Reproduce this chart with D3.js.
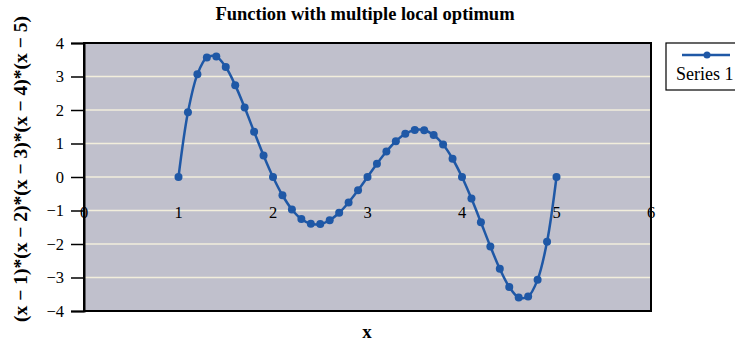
<!DOCTYPE html>
<html>
<head>
<meta charset="utf-8">
<script src="https://cdn.jsdelivr.net/npm/d3@7"></script>
<style>
  body { margin: 0; background: #fff; }
</style>
</head>
<body>
<script>
// series values
const xValues = [1.0, 1.1, 1.2, 1.3, 1.4, 1.5, 1.6, 1.7, 1.8, 1.9,
  2.0, 2.1, 2.2, 2.3, 2.4, 2.5, 2.6, 2.7, 2.8, 2.9,
  3.0, 3.1, 3.2, 3.3, 3.4, 3.5, 3.6, 3.7, 3.8, 3.9,
  4.0, 4.1, 4.2, 4.3, 4.4, 4.5, 4.6, 4.7, 4.8, 4.9, 5.0];
const yValues = [0, 1.934, 3.064, 3.566, 3.594, 3.281, 2.742, 2.072, 1.352, 0.644,
  0, -0.545, -0.968, -1.253, -1.398, -1.406, -1.290, -1.067, -0.760, -0.395,
  0, 0.395, 0.760, 1.067, 1.290, 1.406, 1.398, 1.253, 0.968, 0.545,
  0, -0.644, -1.352, -2.072, -2.742, -3.281, -3.594, -3.566, -3.064, -1.934, 0];
const xTicks = [0, 1, 2, 3, 4, 5, 6];
const yTicks = [-4, -3, -2, -1, 0, 1, 2, 3, 4];
const seriesName = "Series 1";

const width = 735;
const height = 344;
const plot = { left: 84, right: 651, top: 43, bottom: 311 };
const blue = "#1f58a6";
const serif = "'Liberation Serif'";

const svg = d3.select("body").append("svg")
  .attr("width", width)
  .attr("height", height)
  .style("font-family", serif);

const xScale = d3.scaleLinear().domain([0, 6]).range([plot.left, plot.right]);
const yScale = d3.scaleLinear().domain([-4, 4]).range([plot.bottom, plot.top]);

// plot background
svg.append("rect")
  .attr("x", plot.left)
  .attr("y", plot.top)
  .attr("width", plot.right - plot.left)
  .attr("height", plot.bottom - plot.top)
  .attr("fill", "#c0c0cc");

// gridlines
svg.append("g")
  .selectAll("line")
  .data(yTicks.filter((d) => d > -4 && d < 4))
  .enter()
  .append("line")
  .attr("x1", plot.left)
  .attr("x2", plot.right)
  .attr("y1", (d) => yScale(d))
  .attr("y2", (d) => yScale(d))
  .attr("stroke", "#f2eedc")
  .attr("stroke-width", 1.5);

// plot border
svg.append("rect")
  .attr("x", plot.left)
  .attr("y", plot.top)
  .attr("width", plot.right - plot.left)
  .attr("height", plot.bottom - plot.top)
  .attr("fill", "none")
  .attr("stroke", "#000")
  .attr("stroke-width", 2);

// y axis
const yAxis = d3.axisLeft(yScale)
  .tickValues(yTicks)
  .tickSize(13)
  .tickPadding(7)
  .tickFormat((d) => (d < 0 ? "\u2212" + Math.abs(d) : d));

svg.append("g")
  .attr("transform", "translate(" + plot.left + ",0)")
  .call(yAxis)
  .call((g) => g.attr("font-family", null).attr("font-size", null))
  .call((g) => g.select(".domain").attr("stroke-width", 2))
  .call((g) => g.selectAll(".tick line").attr("stroke-width", 1.5))
  .call((g) => g.selectAll("text")
    .style("font-family", serif)
    .style("font-size", "16.5px")
    .attr("fill", "#000"));

// x tick labels sit under the zero line
svg.append("g")
  .selectAll("text")
  .data(xTicks)
  .enter()
  .append("text")
  .attr("x", (d) => xScale(d))
  .attr("y", 218)
  .attr("text-anchor", "middle")
  .style("font-family", serif)
  .style("font-size", "16.5px")
  .text((d) => d);

// smoothed series line
const points = xValues.map((x, i) => ({ x: x, y: yValues[i] }));

const line = d3.line()
  .x((d) => xScale(d.x))
  .y((d) => yScale(d.y))
  .curve(d3.curveCatmullRom.alpha(0.5));

svg.append("path")
  .datum(points)
  .attr("d", line)
  .attr("fill", "none")
  .attr("stroke", blue)
  .attr("stroke-width", 2.5);

svg.append("g")
  .selectAll("circle")
  .data(points)
  .enter()
  .append("circle")
  .attr("cx", (d) => xScale(d.x))
  .attr("cy", (d) => yScale(d.y))
  .attr("r", 4)
  .attr("fill", blue);

// title
svg.append("text")
  .attr("x", 365)
  .attr("y", 20)
  .attr("text-anchor", "middle")
  .style("font-family", serif)
  .style("font-size", "18.5px")
  .style("font-weight", "bold")
  .text("Function with multiple local optimum");

// x axis title
svg.append("text")
  .attr("x", 367)
  .attr("y", 338)
  .attr("text-anchor", "middle")
  .style("font-family", serif)
  .style("font-size", "19px")
  .style("font-weight", "bold")
  .text("x");

// y axis title
svg.append("text")
  .attr("transform", "translate(27,169) rotate(-90)")
  .attr("text-anchor", "middle")
  .style("font-family", serif)
  .style("font-size", "19.5px")
  .style("font-weight", "bold")
  .text("(x \u2212 1)*(x \u2212 2)*(x \u2212 3)*(x \u2212 4)*(x \u2212 5)");

// legend
const legend = svg.append("g").attr("transform", "translate(666,43)");

legend.append("rect")
  .attr("width", 75)
  .attr("height", 47)
  .attr("fill", "#fff")
  .attr("stroke", "#000")
  .attr("stroke-width", 1.2);

legend.append("line")
  .attr("x1", 16)
  .attr("x2", 64)
  .attr("y1", 12)
  .attr("y2", 12)
  .attr("stroke", blue)
  .attr("stroke-width", 2.5);

legend.append("circle")
  .attr("cx", 41)
  .attr("cy", 12)
  .attr("r", 3.5)
  .attr("fill", blue);

legend.append("text")
  .attr("x", 10)
  .attr("y", 37)
  .style("font-family", serif)
  .style("font-size", "18px")
  .text(seriesName);
</script>
</body>
</html>
